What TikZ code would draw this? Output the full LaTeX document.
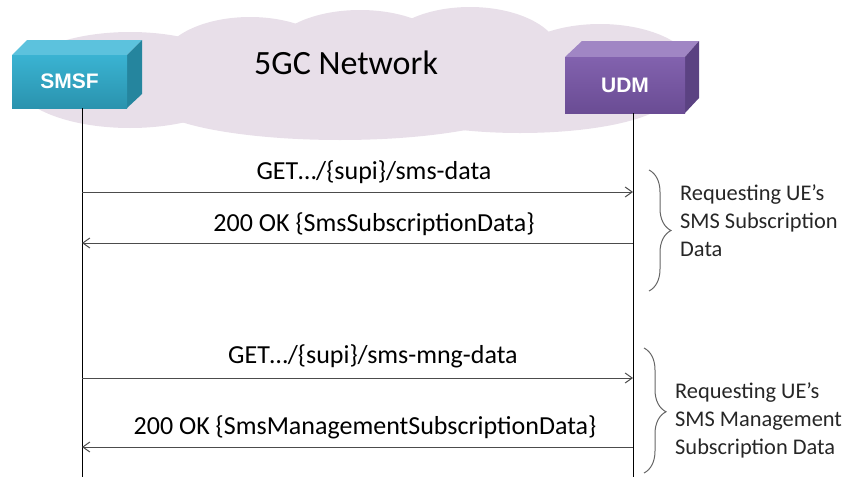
\documentclass[tikz,border=0pt]{standalone}
\usepackage{fontspec}
\setmainfont{Carlito}
\newfontfamily\boxfont{Liberation Sans}
\usetikzlibrary{arrows.meta,decorations.pathreplacing}
\definecolor{cloudc}{HTML}{E8DFE9}
\definecolor{smsfF1}{HTML}{3AB3D2}
\definecolor{smsfF2}{HTML}{2A93AE}
\definecolor{smsfT}{HTML}{5CC2DD}
\definecolor{smsfS}{HTML}{25859E}
\definecolor{udmF1}{HTML}{8262AE}
\definecolor{udmF2}{HTML}{6A4C94}
\definecolor{udmT}{HTML}{A086C4}
\definecolor{udmS}{HTML}{5B4282}
\tikzset{
  cloudpart/.style={fill=cloudc, draw=none},
  nfbox/.style={inner sep=0pt, font=\boxfont\bfseries\fontsize{21}{25}\selectfont, text=white},
  lifeline/.style={draw=black, line width=0.9pt},
  msg/.style={draw=black!70, line width=1pt, -{Straight Barb[length=7pt,width=10pt]}},
  msgtext/.style={font=\fontsize{26}{30}\selectfont, text=black, inner sep=0pt},
  bracestyle/.style={draw=black!60, line width=1pt, decorate, decoration={brace, amplitude=22pt, aspect=#1}},
  sidetext/.style={font=\fontsize{22.4}{28}\selectfont, align=left, anchor=north west, inner sep=0pt, text=black!85},
  titletext/.style={font=\fontsize{34}{40}\selectfont, inner sep=0pt}
}
\begin{document}
\begin{tikzpicture}[x=1pt, y=-1pt]
\useasboundingbox (0,0) rectangle (843,477);
% cloud
\fill[cloudpart] (130,80) ellipse [x radius=115, y radius=48];
\fill[cloudpart] (250,65) ellipse [x radius=90, y radius=48];
\fill[cloudpart] (360,55) ellipse [x radius=90, y radius=45];
\fill[cloudpart] (470,55) ellipse [x radius=90, y radius=48];
\fill[cloudpart] (600,72) ellipse [x radius=95, y radius=48];
\fill[cloudpart] (340,100) ellipse [x radius=190, y radius=40];
\fill[cloudpart] (520,95) ellipse [x radius=150, y radius=38];
\node[titletext] (title) at (346,63) {5GC Network};
% SMSF box
\fill[smsfT] (12,55) -- (27,40) -- (142,40) -- (127,55) -- cycle;
\fill[smsfS] (127,55) -- (142,40) -- (142,94) -- (127,108) -- cycle;
\shade[top color=smsfF1, bottom color=smsfF2] (12,55) rectangle (127,108);
\node[nfbox] (smsf) at (69.5,81.5) {SMSF};
% UDM box
\fill[udmT] (565,57) -- (582,41) -- (699,41) -- (685,57) -- cycle;
\fill[udmS] (685,57) -- (699,41) -- (699,98) -- (685,113) -- cycle;
\shade[top color=udmF1, bottom color=udmF2] (565,57) rectangle (685,113);
\node[nfbox] (udm) at (625,85) {UDM};
% lifelines
\coordinate (sTop) at (82,108);
\coordinate (sBot) at (82,477);
\coordinate (uTop) at (633,113);
\coordinate (uBot) at (633,477);
\draw[lifeline] (sTop) -- (sBot);
\draw[lifeline] (uTop) -- (uBot);
% messages
\coordinate (s1) at (82,192); \coordinate (u1) at (633,192);
\coordinate (s2) at (82,243); \coordinate (u2) at (633,243);
\coordinate (s3) at (82,378); \coordinate (u3) at (633,378);
\coordinate (s4) at (82,447); \coordinate (u4) at (633,447);
\draw[msg] (s1) -- (u1);
\draw[msg] (u2) -- (s2);
\draw[msg] (s3) -- (u3);
\draw[msg] (u4) -- (s4);
\node[msgtext] (m1) at (374,172) {GET…/\{supi\}/sms-data};
\node[msgtext] (m2) at (374,224) {200 OK \{SmsSubscriptionData\}};
\node[msgtext] (m3) at (373,356) {GET…/\{supi\}/sms-mng-data};
\node[msgtext] (m4) at (365,427) {200 OK \{SmsManagementSubscriptionData\}};
% braces
\coordinate (b1a) at (649,170); \coordinate (b1b) at (649,291);
\coordinate (b2a) at (644,348); \coordinate (b2b) at (644,473);
\draw[bracestyle=0.5] (b1a) -- (b1b);
\draw[bracestyle=0.51] (b2a) -- (b2b);
\node[sidetext] (l1) at (680,185) {Requesting UE’s\\SMS Subscription\\Data};
\node[sidetext] (l2) at (675,382) {Requesting UE’s\\SMS Management\\Subscription Data};
\end{tikzpicture}
\end{document}
